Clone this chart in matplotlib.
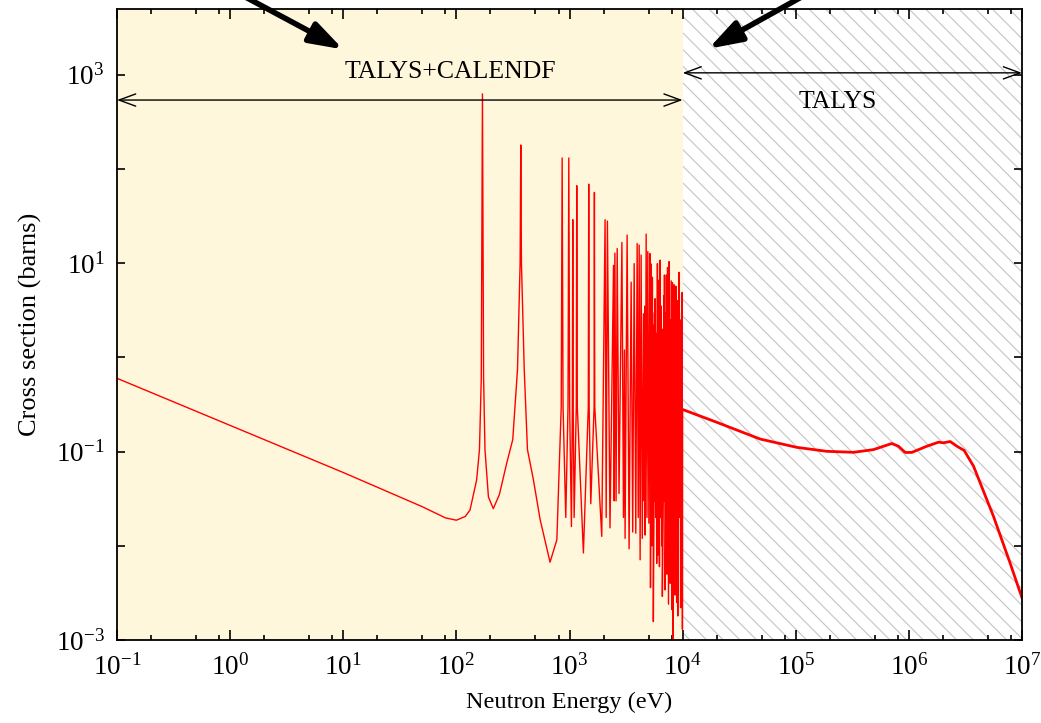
import matplotlib
matplotlib.use('Agg')
import matplotlib.pyplot as plt
from matplotlib.ticker import FixedLocator, FuncFormatter, NullFormatter, NullLocator
import numpy as np

plt.rcParams['font.family'] = ['Liberation Serif', 'DejaVu Serif']
plt.rcParams['mathtext.fontset'] = 'custom'
plt.rcParams['mathtext.rm'] = 'Liberation Serif'
plt.rcParams['mathtext.it'] = 'Liberation Serif:italic'
plt.rcParams['hatch.linewidth'] = 0.8
plt.rcParams['hatch.color'] = '#c4c4c4'

# smooth 1/v part below the first resonance (eV, barns)
thermal_energy = [0.1, 1, 10, 50, 80, 100, 120, 132, 151, 160]
thermal_xs = [0.6, 0.19, 0.06, 0.026, 0.0198, 0.0187, 0.0205, 0.024, 0.05, 0.105]

# isolated resonances up to ~2 keV
isolated_energy = [166, 170, 174, 179, 192, 212, 240, 279, 315, 347, 366, 371, 376, 398, 425,
                   480, 550, 673, 773, 845, 861, 877, 927, 970, 986, 1003, 1040, 1060, 1069,
                   1078, 1099, 1148, 1159, 1172, 1327, 1466, 1479, 1492, 1542, 1650, 1660,
                   1672, 1928]
isolated_xs = [0.6, 628, 0.6, 0.105, 0.033, 0.0248, 0.035, 0.076, 0.134, 0.745, 10, 180, 10,
               0.745, 0.105, 0.05, 0.019, 0.0067, 0.0116, 0.3, 131, 0.3, 0.02, 0.3, 131, 0.3,
               0.016, 0.3, 29, 0.3, 0.02, 0.3, 66.5, 0.3, 0.0084, 0.3, 69, 0.3, 0.028, 0.3,
               56.5, 0.3, 0.0126]

# dense resonances 2 keV - 10 keV (peak / trough alternating)
dense_energy = [2063, 2110, 2163, 2280, 2450, 2485, 2518, 2580, 2640, 2740,
                2906, 3000, 3060, 3100, 3231, 3363, 3506, 3620, 3730, 3855,
                3963, 4050, 4129, 4210, 4297, 4400, 4508, 4580, 4620, 4660,
                4761, 4840, 4922, 5030, 5128, 5160, 5180, 5200, 5267, 5330,
                5404, 5460, 5480, 5510, 5600, 5640, 5680, 5710, 5800, 5850,
                5900, 5985, 6070, 6155, 6240, 6319, 6420, 6480, 6540, 6580,
                6620, 6760, 6820, 6860, 6907, 7000, 7100, 7150, 7170, 7194,
                7270, 7343, 7500, 7600, 7700, 7730, 7760, 7925, 8030, 8130,
                8190, 8300, 8340, 8380, 8410, 8560, 8620, 8660, 8710, 8850,
                9000, 9060, 9150, 9200, 9250, 9310, 9450, 9500, 9600, 9750,
                9800, 9850, 9910, 9960, 10000]
dense_xs = [29, 0.02, 28, 0.0155, 9.5, 0.03, 12.8, 0.03, 14.3, 0.036,
            16.6, 0.02, 1.2, 0.012, 19.9, 0.0093, 6.3, 0.014, 9.9, 0.0136,
            16.2, 0.02, 15.6, 0.0071, 12.2, 0.012, 2.9, 0.03, 3.5, 0.013,
            20.4, 0.02, 13.3, 0.0174, 12.7, 0.05, 4.0, 0.0036, 9.8, 0.01,
            7.1, 0.03, 2.2, 0.00157, 0.05, 3.0, 0.03, 4.2, 0.02, 1.8,
            0.0065, 9.9, 0.008, 6.6, 0.006, 10.8, 0.02, 3.5, 0.01, 2.0,
            0.0029, 0.04, 4.5, 0.03, 7.5, 0.0034, 0.03, 3.0, 0.05, 7.5,
            0.005, 9.0, 0.0024, 10.4, 0.02, 2.5, 0.004, 6.5, 0.0021, 6.2,
            0.0008, 0.03, 3.0, 0.04, 5.9, 0.003, 2.5, 0.03, 5.7, 0.0025,
            4.0, 0.0018, 0.04, 3.0, 0.03, 8.0, 0.02, 2.5, 0.0022, 0.03,
            3.0, 0.04, 4.9, 0.0013, 0.28]

# TALYS above 10 keV
talys_energy = [1e4, 2e4, 4.84e4, 1.02e5, 1.88e5, 3.24e5, 4.86e5, 7.07e5, 8.09e5, 9.27e5,
                1.06e6, 1.44e6, 1.83e6, 2.02e6, 2.32e6, 2.66e6, 3.08e6, 3.73e6, 5.6e6,
                7.87e6, 1e7]
talys_xs = [0.28, 0.205, 0.136, 0.111, 0.1007, 0.0983, 0.105, 0.122, 0.114, 0.098, 0.098,
            0.114, 0.126, 0.124, 0.128, 0.114, 0.103, 0.070, 0.0205, 0.0065, 0.0028]

E_split = 1e4
xmin, xmax = 0.1, 1e7
ymin, ymax = 1e-3, 5e3

res_energy = thermal_energy + isolated_energy + dense_energy
res_xs = thermal_xs + isolated_xs + dense_xs

fig = plt.figure(figsize=(10.41, 7.23), dpi=100)
ax = fig.add_axes([117 / 1041, 1 - 640 / 723, (1022 - 117) / 1041, (640 - 9) / 723])
ax.set_xscale('log')
ax.set_yscale('log')
ax.set_xlim(xmin, xmax)
ax.set_ylim(ymin, ymax)

ax.axvspan(xmin, E_split, facecolor='#fff7db', edgecolor='none', zorder=0)
ax.axvspan(E_split, xmax, facecolor='white', edgecolor='#c4c4c4', hatch='\\\\', lw=0, zorder=0)

ax.plot(res_energy, res_xs, color='red', lw=1.0, zorder=2)
ax.plot(talys_energy, talys_xs, color='red', lw=2.0, zorder=2)

# region arrows and labels
head = '<->,head_length=0.6,head_width=0.22'
ax.annotate('', xy=(E_split, 540), xytext=(xmin, 540),
            arrowprops=dict(arrowstyle=head, lw=1.0, color='black',
                            shrinkA=0, shrinkB=0, mutation_scale=20),
            annotation_clip=False, zorder=3)
ax.annotate('', xy=(xmax, 1050), xytext=(E_split, 1050),
            arrowprops=dict(arrowstyle=head, lw=1.0, color='black',
                            shrinkA=0, shrinkB=0, mutation_scale=20),
            annotation_clip=False, zorder=3)
ax.text(88, 1070, 'TALYS+CALENDF', ha='center', va='center', fontsize=18.5, zorder=3)
ax.text(2.37e5, 516, 'TALYS', ha='center', va='center', fontsize=18.5, zorder=3)

# thick pointer arrows coming from above the frame
big = '-|>,head_length=1.0,head_width=0.33'
ax.annotate('', xy=(10, 1860), xytext=(195, 753), textcoords='figure pixels',
            arrowprops=dict(arrowstyle=big, lw=4, color='black',
                            shrinkA=0, shrinkB=0, mutation_scale=20),
            annotation_clip=False, zorder=4)
ax.annotate('', xy=(1.69e4, 1890), xytext=(850, 753), textcoords='figure pixels',
            arrowprops=dict(arrowstyle=big, lw=4, color='black',
                            shrinkA=0, shrinkB=0, mutation_scale=20),
            annotation_clip=False, zorder=4)

# ticks: decades on both axes, 2/5/8 minor ticks on x, labels every other decade on y
def decade_label(v, pos):
    return r'$10^{%d}$' % round(np.log10(v))

x_decades = [10.0 ** k for k in range(-1, 8)]
x_minor = [m * d for d in x_decades[:-1] for m in (2, 5, 8)]
ax.xaxis.set_major_locator(FixedLocator(x_decades))
ax.xaxis.set_minor_locator(FixedLocator(x_minor))
ax.xaxis.set_minor_formatter(NullFormatter())
ax.xaxis.set_major_formatter(FuncFormatter(decade_label))
ax.yaxis.set_major_locator(FixedLocator([10.0 ** k for k in range(-3, 4)]))
ax.yaxis.set_minor_locator(NullLocator())
ax.yaxis.set_major_formatter(FuncFormatter(
    lambda v, p: decade_label(v, p) if round(np.log10(v)) % 2 else ''))
ax.tick_params(which='both', direction='in', top=True, right=True, labelsize=19.5,
               width=1.2, color='black')
ax.tick_params(axis='x', which='major', length=7, pad=10)
ax.tick_params(axis='x', which='minor', length=3.5)
ax.tick_params(axis='y', which='major', length=5.5, pad=9)
for s in ax.spines.values():
    s.set_linewidth(1.3)
    s.set_zorder(5)

ax.set_xlabel('Neutron Energy (eV)', fontsize=17.5, labelpad=8)
ax.set_ylabel('Cross section (barns)', fontsize=19, labelpad=10)

fig.savefig('out.png', dpi=100)
